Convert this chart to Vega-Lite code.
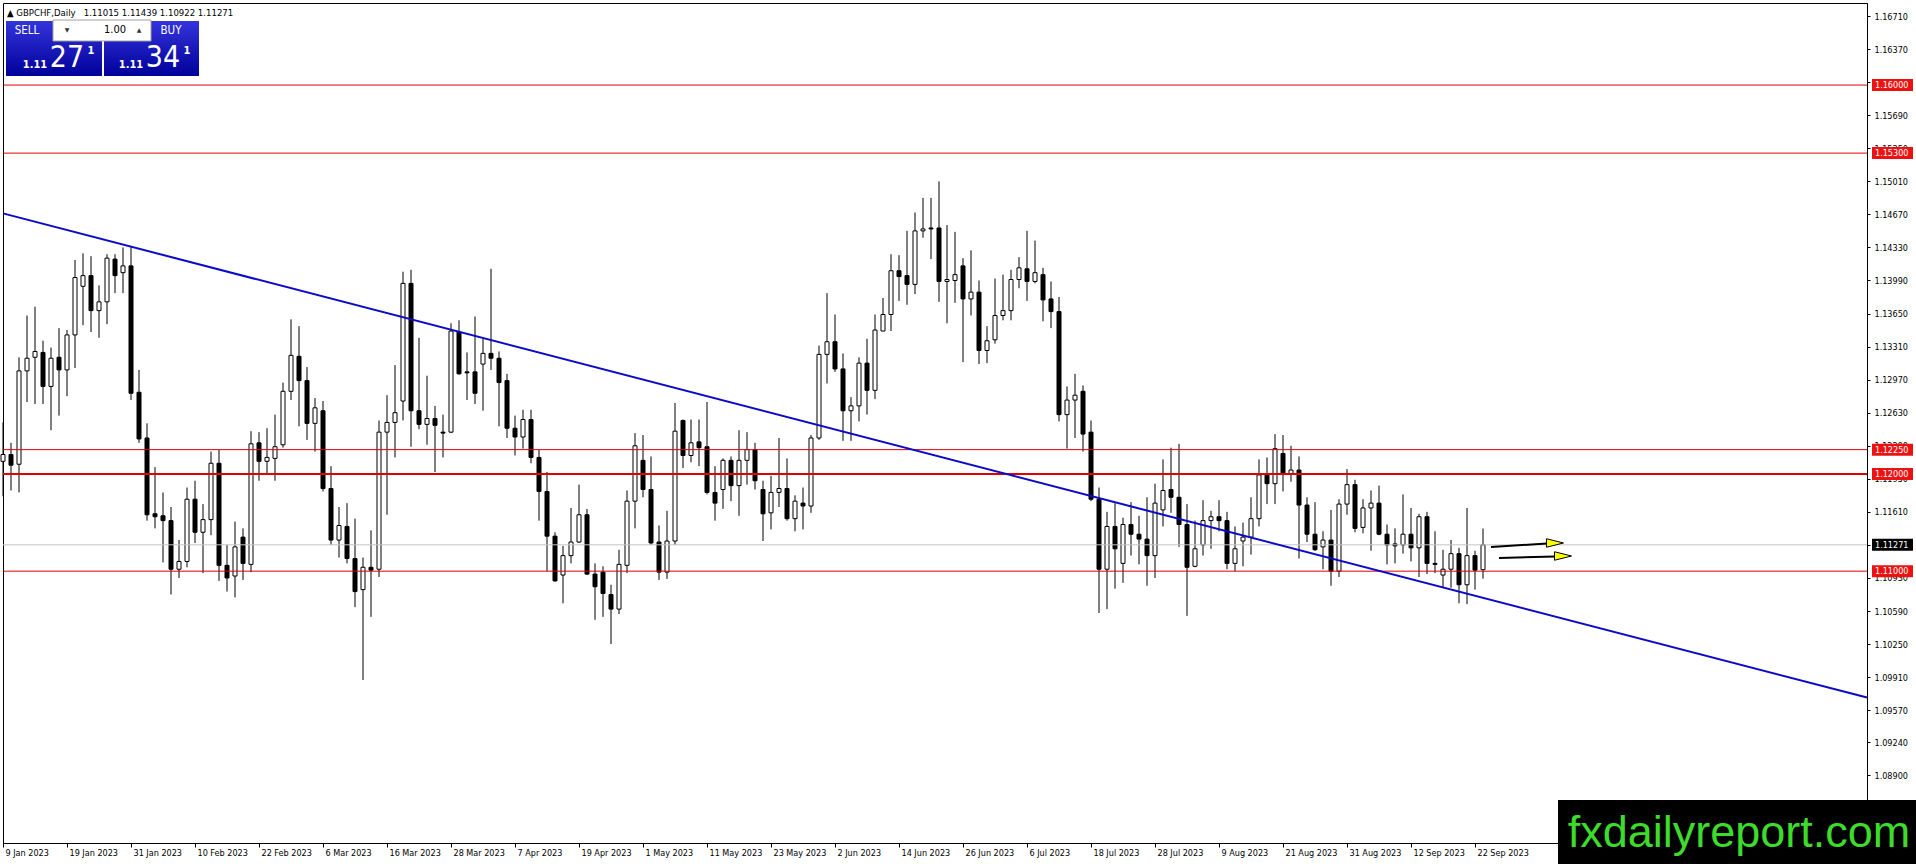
{
  "$schema": "https://vega.github.io/schema/vega-lite/v6.json",
  "width": 1864,
  "height": 840,
  "autosize": {"type": "none"},
  "padding": {"left": 3, "top": 3, "right": 49, "bottom": 21},
  "background": "white",
  "title": {
    "text": "▲  GBPCHF,Daily\u00a0\u00a0 1.11015 1.11439 1.10922 1.11271",
    "anchor": "start", "frame": "group", "orient": "top",
    "offset": -14, "baseline": "top", "dx": 4,
    "font": "DejaVu Sans Condensed, Liberation Sans", "fontSize": 9.5,
    "fontWeight": "normal", "color": "black"
  },
  "config": {
    "view": {"stroke": "black", "strokeWidth": 1},
    "axis": {
      "domainColor": "black", "tickColor": "black", "labelColor": "black",
      "labelFont": "DejaVu Sans Condensed, Liberation Sans", "labelFontSize": 9,
      "grid": false, "labelOverlap": false, "labelFlush": false, "labelBound": false
    }
  },
  "datasets": {
    "candles": [
      {"date": "2023-01-09", "open": 1.1213, "high": 1.1253, "low": 1.1177, "close": 1.1220},
      {"date": "2023-01-10", "open": 1.1220, "high": 1.1232, "low": 1.1183, "close": 1.1209},
      {"date": "2023-01-11", "open": 1.1210, "high": 1.1320, "low": 1.1181, "close": 1.1306},
      {"date": "2023-01-12", "open": 1.1306, "high": 1.1363, "low": 1.1274, "close": 1.1319},
      {"date": "2023-01-13", "open": 1.1320, "high": 1.1372, "low": 1.1272, "close": 1.1326},
      {"date": "2023-01-16", "open": 1.1325, "high": 1.1337, "low": 1.1272, "close": 1.1290},
      {"date": "2023-01-17", "open": 1.1290, "high": 1.1330, "low": 1.1245, "close": 1.1319},
      {"date": "2023-01-18", "open": 1.1320, "high": 1.1350, "low": 1.1260, "close": 1.1307},
      {"date": "2023-01-19", "open": 1.1307, "high": 1.1348, "low": 1.1280, "close": 1.1343},
      {"date": "2023-01-20", "open": 1.1343, "high": 1.1420, "low": 1.1309, "close": 1.1402},
      {"date": "2023-01-23", "open": 1.1393, "high": 1.1427, "low": 1.1353, "close": 1.1404},
      {"date": "2023-01-24", "open": 1.1404, "high": 1.1424, "low": 1.1346, "close": 1.1368},
      {"date": "2023-01-25", "open": 1.1368, "high": 1.1394, "low": 1.1340, "close": 1.1377},
      {"date": "2023-01-26", "open": 1.1377, "high": 1.1426, "low": 1.1354, "close": 1.1422},
      {"date": "2023-01-27", "open": 1.1421, "high": 1.1426, "low": 1.1386, "close": 1.1404},
      {"date": "2023-01-30", "open": 1.1407, "high": 1.1433, "low": 1.1386, "close": 1.1414},
      {"date": "2023-01-31", "open": 1.1414, "high": 1.1434, "low": 1.1276, "close": 1.1283},
      {"date": "2023-02-01", "open": 1.1284, "high": 1.1307, "low": 1.1232, "close": 1.1236},
      {"date": "2023-02-02", "open": 1.1237, "high": 1.1252, "low": 1.1152, "close": 1.1158},
      {"date": "2023-02-03", "open": 1.1159, "high": 1.1207, "low": 1.1144, "close": 1.1156},
      {"date": "2023-02-06", "open": 1.1157, "high": 1.1181, "low": 1.1109, "close": 1.1152},
      {"date": "2023-02-07", "open": 1.1152, "high": 1.1166, "low": 1.1076, "close": 1.1102},
      {"date": "2023-02-08", "open": 1.1102, "high": 1.1132, "low": 1.1093, "close": 1.1110},
      {"date": "2023-02-09", "open": 1.1110, "high": 1.1186, "low": 1.1104, "close": 1.1174},
      {"date": "2023-02-10", "open": 1.1174, "high": 1.1193, "low": 1.1129, "close": 1.1140},
      {"date": "2023-02-13", "open": 1.1140, "high": 1.1169, "low": 1.1098, "close": 1.1153},
      {"date": "2023-02-14", "open": 1.1153, "high": 1.1223, "low": 1.1137, "close": 1.1211},
      {"date": "2023-02-15", "open": 1.1211, "high": 1.1225, "low": 1.1090, "close": 1.1106},
      {"date": "2023-02-16", "open": 1.1106, "high": 1.1127, "low": 1.1079, "close": 1.1093},
      {"date": "2023-02-17", "open": 1.1095, "high": 1.1151, "low": 1.1073, "close": 1.1125},
      {"date": "2023-02-20", "open": 1.1135, "high": 1.1144, "low": 1.1091, "close": 1.1108},
      {"date": "2023-02-21", "open": 1.1107, "high": 1.1244, "low": 1.1099, "close": 1.1231},
      {"date": "2023-02-22", "open": 1.1232, "high": 1.1243, "low": 1.1193, "close": 1.1213},
      {"date": "2023-02-23", "open": 1.1213, "high": 1.1247, "low": 1.1200, "close": 1.1217},
      {"date": "2023-02-24", "open": 1.1216, "high": 1.1261, "low": 1.1193, "close": 1.1228},
      {"date": "2023-02-27", "open": 1.1230, "high": 1.1294, "low": 1.1227, "close": 1.1285},
      {"date": "2023-02-28", "open": 1.1285, "high": 1.1359, "low": 1.1276, "close": 1.1322},
      {"date": "2023-03-01", "open": 1.1321, "high": 1.1352, "low": 1.1249, "close": 1.1296},
      {"date": "2023-03-02", "open": 1.1296, "high": 1.1310, "low": 1.1235, "close": 1.1252},
      {"date": "2023-03-03", "open": 1.1252, "high": 1.1278, "low": 1.1223, "close": 1.1268},
      {"date": "2023-03-06", "open": 1.1265, "high": 1.1275, "low": 1.1182, "close": 1.1185},
      {"date": "2023-03-07", "open": 1.1185, "high": 1.1208, "low": 1.1127, "close": 1.1132},
      {"date": "2023-03-08", "open": 1.1132, "high": 1.1166, "low": 1.1114, "close": 1.1147},
      {"date": "2023-03-09", "open": 1.1146, "high": 1.1170, "low": 1.1108, "close": 1.1113},
      {"date": "2023-03-10", "open": 1.1113, "high": 1.1154, "low": 1.1063, "close": 1.1079},
      {"date": "2023-03-13", "open": 1.1081, "high": 1.1114, "low": 1.0988, "close": 1.1104},
      {"date": "2023-03-14", "open": 1.1104, "high": 1.1142, "low": 1.1053, "close": 1.1101},
      {"date": "2023-03-15", "open": 1.1102, "high": 1.1255, "low": 1.1094, "close": 1.1243},
      {"date": "2023-03-16", "open": 1.1243, "high": 1.1281, "low": 1.1158, "close": 1.1253},
      {"date": "2023-03-17", "open": 1.1253, "high": 1.1312, "low": 1.1217, "close": 1.1263},
      {"date": "2023-03-20", "open": 1.1275, "high": 1.1408, "low": 1.1255, "close": 1.1396},
      {"date": "2023-03-21", "open": 1.1396, "high": 1.1410, "low": 1.1228, "close": 1.1265},
      {"date": "2023-03-22", "open": 1.1265, "high": 1.1340, "low": 1.1246, "close": 1.1251},
      {"date": "2023-03-23", "open": 1.1251, "high": 1.1301, "low": 1.1230, "close": 1.1257},
      {"date": "2023-03-24", "open": 1.1257, "high": 1.1270, "low": 1.1202, "close": 1.1250},
      {"date": "2023-03-27", "open": 1.1243, "high": 1.1261, "low": 1.1217, "close": 1.1242},
      {"date": "2023-03-28", "open": 1.1243, "high": 1.1355, "low": 1.1242, "close": 1.1347},
      {"date": "2023-03-29", "open": 1.1346, "high": 1.1358, "low": 1.1302, "close": 1.1303},
      {"date": "2023-03-30", "open": 1.1305, "high": 1.1325, "low": 1.1276, "close": 1.1304},
      {"date": "2023-03-31", "open": 1.1305, "high": 1.1362, "low": 1.1272, "close": 1.1283},
      {"date": "2023-04-03", "open": 1.1313, "high": 1.1339, "low": 1.1265, "close": 1.1324},
      {"date": "2023-04-04", "open": 1.1324, "high": 1.1411, "low": 1.1307, "close": 1.1319},
      {"date": "2023-04-05", "open": 1.1319, "high": 1.1326, "low": 1.1249, "close": 1.1294},
      {"date": "2023-04-06", "open": 1.1296, "high": 1.1303, "low": 1.1237, "close": 1.1247},
      {"date": "2023-04-07", "open": 1.1247, "high": 1.1260, "low": 1.1219, "close": 1.1238},
      {"date": "2023-04-10", "open": 1.1238, "high": 1.1266, "low": 1.1226, "close": 1.1256},
      {"date": "2023-04-11", "open": 1.1256, "high": 1.1266, "low": 1.1211, "close": 1.1217},
      {"date": "2023-04-12", "open": 1.1217, "high": 1.1225, "low": 1.1152, "close": 1.1182},
      {"date": "2023-04-13", "open": 1.1182, "high": 1.1202, "low": 1.1100, "close": 1.1136},
      {"date": "2023-04-14", "open": 1.1136, "high": 1.1140, "low": 1.1089, "close": 1.1090},
      {"date": "2023-04-17", "open": 1.1096, "high": 1.1126, "low": 1.1067, "close": 1.1116},
      {"date": "2023-04-18", "open": 1.1116, "high": 1.1165, "low": 1.1108, "close": 1.1130},
      {"date": "2023-04-19", "open": 1.1130, "high": 1.1189, "low": 1.1129, "close": 1.1158},
      {"date": "2023-04-20", "open": 1.1158, "high": 1.1164, "low": 1.1096, "close": 1.1097},
      {"date": "2023-04-21", "open": 1.1097, "high": 1.1108, "low": 1.1050, "close": 1.1084},
      {"date": "2023-04-24", "open": 1.1099, "high": 1.1105, "low": 1.1053, "close": 1.1077},
      {"date": "2023-04-25", "open": 1.1076, "high": 1.1086, "low": 1.1025, "close": 1.1061},
      {"date": "2023-04-26", "open": 1.1061, "high": 1.1122, "low": 1.1056, "close": 1.1107},
      {"date": "2023-04-27", "open": 1.1106, "high": 1.1183, "low": 1.1098, "close": 1.1172},
      {"date": "2023-04-28", "open": 1.1172, "high": 1.1242, "low": 1.1144, "close": 1.1229},
      {"date": "2023-05-01", "open": 1.1214, "high": 1.1240, "low": 1.1176, "close": 1.1184},
      {"date": "2023-05-02", "open": 1.1184, "high": 1.1218, "low": 1.1127, "close": 1.1129},
      {"date": "2023-05-03", "open": 1.1130, "high": 1.1147, "low": 1.1091, "close": 1.1099},
      {"date": "2023-05-04", "open": 1.1099, "high": 1.1162, "low": 1.1092, "close": 1.1131},
      {"date": "2023-05-05", "open": 1.1131, "high": 1.1273, "low": 1.1127, "close": 1.1244},
      {"date": "2023-05-08", "open": 1.1255, "high": 1.1256, "low": 1.1206, "close": 1.1219},
      {"date": "2023-05-09", "open": 1.1219, "high": 1.1256, "low": 1.1212, "close": 1.1232},
      {"date": "2023-05-10", "open": 1.1233, "high": 1.1256, "low": 1.1208, "close": 1.1227},
      {"date": "2023-05-11", "open": 1.1228, "high": 1.1274, "low": 1.1179, "close": 1.1181},
      {"date": "2023-05-12", "open": 1.1181, "high": 1.1208, "low": 1.1152, "close": 1.1170},
      {"date": "2023-05-15", "open": 1.1184, "high": 1.1216, "low": 1.1164, "close": 1.1214},
      {"date": "2023-05-16", "open": 1.1214, "high": 1.1218, "low": 1.1172, "close": 1.1188},
      {"date": "2023-05-17", "open": 1.1188, "high": 1.1245, "low": 1.1157, "close": 1.1214},
      {"date": "2023-05-18", "open": 1.1214, "high": 1.1243, "low": 1.1189, "close": 1.1225},
      {"date": "2023-05-19", "open": 1.1225, "high": 1.1232, "low": 1.1184, "close": 1.1193},
      {"date": "2023-05-22", "open": 1.1184, "high": 1.1193, "low": 1.1131, "close": 1.1159},
      {"date": "2023-05-23", "open": 1.1160, "high": 1.1198, "low": 1.1143, "close": 1.1181},
      {"date": "2023-05-24", "open": 1.1181, "high": 1.1237, "low": 1.1166, "close": 1.1185},
      {"date": "2023-05-25", "open": 1.1185, "high": 1.1216, "low": 1.1152, "close": 1.1154},
      {"date": "2023-05-26", "open": 1.1154, "high": 1.1178, "low": 1.1141, "close": 1.1172},
      {"date": "2023-05-29", "open": 1.1170, "high": 1.1186, "low": 1.1143, "close": 1.1167},
      {"date": "2023-05-30", "open": 1.1167, "high": 1.1240, "low": 1.1160, "close": 1.1237},
      {"date": "2023-05-31", "open": 1.1237, "high": 1.1332, "low": 1.1235, "close": 1.1323},
      {"date": "2023-06-01", "open": 1.1323, "high": 1.1386, "low": 1.1293, "close": 1.1336},
      {"date": "2023-06-02", "open": 1.1336, "high": 1.1364, "low": 1.1305, "close": 1.1308},
      {"date": "2023-06-05", "open": 1.1308, "high": 1.1324, "low": 1.1234, "close": 1.1265},
      {"date": "2023-06-06", "open": 1.1265, "high": 1.1279, "low": 1.1234, "close": 1.1270},
      {"date": "2023-06-07", "open": 1.1270, "high": 1.1320, "low": 1.1254, "close": 1.1314},
      {"date": "2023-06-08", "open": 1.1314, "high": 1.1339, "low": 1.1261, "close": 1.1286},
      {"date": "2023-06-09", "open": 1.1286, "high": 1.1364, "low": 1.1277, "close": 1.1348},
      {"date": "2023-06-12", "open": 1.1347, "high": 1.1381, "low": 1.1347, "close": 1.1364},
      {"date": "2023-06-13", "open": 1.1364, "high": 1.1426, "low": 1.1347, "close": 1.1409},
      {"date": "2023-06-14", "open": 1.1409, "high": 1.1425, "low": 1.1378, "close": 1.1403},
      {"date": "2023-06-15", "open": 1.1404, "high": 1.1450, "low": 1.1374, "close": 1.1395},
      {"date": "2023-06-16", "open": 1.1395, "high": 1.1469, "low": 1.1385, "close": 1.1450},
      {"date": "2023-06-19", "open": 1.1450, "high": 1.1484, "low": 1.1443, "close": 1.1452},
      {"date": "2023-06-20", "open": 1.1453, "high": 1.1484, "low": 1.1421, "close": 1.1452},
      {"date": "2023-06-21", "open": 1.1453, "high": 1.1501, "low": 1.1377, "close": 1.1398},
      {"date": "2023-06-22", "open": 1.1398, "high": 1.1456, "low": 1.1355, "close": 1.1400},
      {"date": "2023-06-23", "open": 1.1399, "high": 1.1449, "low": 1.1376, "close": 1.1405},
      {"date": "2023-06-26", "open": 1.1414, "high": 1.1422, "low": 1.1315, "close": 1.1380},
      {"date": "2023-06-27", "open": 1.1380, "high": 1.1430, "low": 1.1363, "close": 1.1387},
      {"date": "2023-06-28", "open": 1.1387, "high": 1.1399, "low": 1.1313, "close": 1.1327},
      {"date": "2023-06-29", "open": 1.1327, "high": 1.1352, "low": 1.1314, "close": 1.1337},
      {"date": "2023-06-30", "open": 1.1338, "high": 1.1401, "low": 1.1334, "close": 1.1363},
      {"date": "2023-07-03", "open": 1.1363, "high": 1.1405, "low": 1.1358, "close": 1.1368},
      {"date": "2023-07-04", "open": 1.1368, "high": 1.1410, "low": 1.1358, "close": 1.1400},
      {"date": "2023-07-05", "open": 1.1400, "high": 1.1423, "low": 1.1391, "close": 1.1412},
      {"date": "2023-07-06", "open": 1.1411, "high": 1.1450, "low": 1.1378, "close": 1.1398},
      {"date": "2023-07-07", "open": 1.1398, "high": 1.1440, "low": 1.1396, "close": 1.1407},
      {"date": "2023-07-10", "open": 1.1405, "high": 1.1412, "low": 1.1357, "close": 1.1379},
      {"date": "2023-07-11", "open": 1.1380, "high": 1.1398, "low": 1.1350, "close": 1.1367},
      {"date": "2023-07-12", "open": 1.1367, "high": 1.1382, "low": 1.1254, "close": 1.1261},
      {"date": "2023-07-13", "open": 1.1261, "high": 1.1290, "low": 1.1226, "close": 1.1276},
      {"date": "2023-07-14", "open": 1.1276, "high": 1.1303, "low": 1.1237, "close": 1.1281},
      {"date": "2023-07-17", "open": 1.1285, "high": 1.1291, "low": 1.1223, "close": 1.1241},
      {"date": "2023-07-18", "open": 1.1243, "high": 1.1255, "low": 1.1172, "close": 1.1174},
      {"date": "2023-07-19", "open": 1.1174, "high": 1.1186, "low": 1.1057, "close": 1.1102},
      {"date": "2023-07-20", "open": 1.1102, "high": 1.1161, "low": 1.1061, "close": 1.1146},
      {"date": "2023-07-21", "open": 1.1146, "high": 1.1170, "low": 1.1082, "close": 1.1123},
      {"date": "2023-07-24", "open": 1.1108, "high": 1.1155, "low": 1.1088, "close": 1.1148},
      {"date": "2023-07-25", "open": 1.1148, "high": 1.1171, "low": 1.1116, "close": 1.1138},
      {"date": "2023-07-26", "open": 1.1138, "high": 1.1157, "low": 1.1107, "close": 1.1133},
      {"date": "2023-07-27", "open": 1.1133, "high": 1.1176, "low": 1.1085, "close": 1.1116},
      {"date": "2023-07-28", "open": 1.1116, "high": 1.1190, "low": 1.1093, "close": 1.1170},
      {"date": "2023-07-31", "open": 1.1163, "high": 1.1215, "low": 1.1146, "close": 1.1183},
      {"date": "2023-08-01", "open": 1.1184, "high": 1.1227, "low": 1.1160, "close": 1.1176},
      {"date": "2023-08-02", "open": 1.1176, "high": 1.1231, "low": 1.1125, "close": 1.1148},
      {"date": "2023-08-03", "open": 1.1148, "high": 1.1169, "low": 1.1054, "close": 1.1104},
      {"date": "2023-08-04", "open": 1.1105, "high": 1.1152, "low": 1.1104, "close": 1.1123},
      {"date": "2023-08-07", "open": 1.1127, "high": 1.1173, "low": 1.1116, "close": 1.1152},
      {"date": "2023-08-08", "open": 1.1152, "high": 1.1162, "low": 1.1123, "close": 1.1156},
      {"date": "2023-08-09", "open": 1.1156, "high": 1.1173, "low": 1.1141, "close": 1.1152},
      {"date": "2023-08-10", "open": 1.1152, "high": 1.1161, "low": 1.1102, "close": 1.1108},
      {"date": "2023-08-11", "open": 1.1108, "high": 1.1146, "low": 1.1100, "close": 1.1123},
      {"date": "2023-08-14", "open": 1.1131, "high": 1.1150, "low": 1.1105, "close": 1.1135},
      {"date": "2023-08-15", "open": 1.1135, "high": 1.1176, "low": 1.1117, "close": 1.1154},
      {"date": "2023-08-16", "open": 1.1154, "high": 1.1215, "low": 1.1146, "close": 1.1199},
      {"date": "2023-08-17", "open": 1.1199, "high": 1.1217, "low": 1.1169, "close": 1.1190},
      {"date": "2023-08-18", "open": 1.1190, "high": 1.1241, "low": 1.1169, "close": 1.1226},
      {"date": "2023-08-21", "open": 1.1221, "high": 1.1240, "low": 1.1182, "close": 1.1200},
      {"date": "2023-08-22", "open": 1.1200, "high": 1.1229, "low": 1.1192, "close": 1.1204},
      {"date": "2023-08-23", "open": 1.1204, "high": 1.1218, "low": 1.1113, "close": 1.1168},
      {"date": "2023-08-24", "open": 1.1168, "high": 1.1176, "low": 1.1130, "close": 1.1138},
      {"date": "2023-08-25", "open": 1.1138, "high": 1.1171, "low": 1.1121, "close": 1.1122},
      {"date": "2023-08-28", "open": 1.1125, "high": 1.1141, "low": 1.1102, "close": 1.1132},
      {"date": "2023-08-29", "open": 1.1132, "high": 1.1163, "low": 1.1085, "close": 1.1100},
      {"date": "2023-08-30", "open": 1.1100, "high": 1.1174, "low": 1.1094, "close": 1.1169},
      {"date": "2023-08-31", "open": 1.1169, "high": 1.1205, "low": 1.1158, "close": 1.1189},
      {"date": "2023-09-01", "open": 1.1189, "high": 1.1194, "low": 1.1140, "close": 1.1144},
      {"date": "2023-09-04", "open": 1.1145, "high": 1.1174, "low": 1.1139, "close": 1.1165},
      {"date": "2023-09-05", "open": 1.1165, "high": 1.1183, "low": 1.1121, "close": 1.1170},
      {"date": "2023-09-06", "open": 1.1170, "high": 1.1188, "low": 1.1137, "close": 1.1138},
      {"date": "2023-09-07", "open": 1.1138, "high": 1.1148, "low": 1.1107, "close": 1.1127},
      {"date": "2023-09-08", "open": 1.1128, "high": 1.1144, "low": 1.1108, "close": 1.1126},
      {"date": "2023-09-11", "open": 1.1127, "high": 1.1179, "low": 1.1118, "close": 1.1138},
      {"date": "2023-09-12", "open": 1.1138, "high": 1.1165, "low": 1.1110, "close": 1.1124},
      {"date": "2023-09-13", "open": 1.1124, "high": 1.1159, "low": 1.1094, "close": 1.1156},
      {"date": "2023-09-14", "open": 1.1156, "high": 1.1161, "low": 1.1097, "close": 1.1108},
      {"date": "2023-09-15", "open": 1.1108, "high": 1.1141, "low": 1.1098, "close": 1.1107},
      {"date": "2023-09-18", "open": 1.1096, "high": 1.1122, "low": 1.1083, "close": 1.1102},
      {"date": "2023-09-19", "open": 1.1102, "high": 1.1132, "low": 1.1083, "close": 1.1118},
      {"date": "2023-09-20", "open": 1.1118, "high": 1.1124, "low": 1.1067, "close": 1.1086},
      {"date": "2023-09-21", "open": 1.1086, "high": 1.1165, "low": 1.1066, "close": 1.1116},
      {"date": "2023-09-22", "open": 1.1116, "high": 1.1121, "low": 1.1081, "close": 1.1101},
      {"date": "2023-09-25", "open": 1.11015, "high": 1.11439, "low": 1.10922, "close": 1.11271}
    ],
    "levels": [
      {"price": 1.16, "tag": "1.16000", "kind": "level"},
      {"price": 1.153, "tag": "1.15300", "kind": "level"},
      {"price": 1.1225, "tag": "1.12250", "kind": "level"},
      {"price": 1.12, "tag": "1.12000", "kind": "major"},
      {"price": 1.11, "tag": "1.11000", "kind": "level"},
      {"price": 1.11271, "tag": "1.11271", "kind": "current"}
    ],
    "trend": [
      {"date": "2023-01-09", "price": 1.1468},
      {"date": "2023-11-30", "price": 1.0970}
    ],
    "arrows": [
      {"arrow": "upper", "date": "2023-09-26", "price": 1.11248},
      {"arrow": "upper", "date": "2023-10-05", "price": 1.11285},
      {"arrow": "lower", "date": "2023-09-27", "price": 1.11135},
      {"arrow": "lower", "date": "2023-10-06", "price": 1.11152}
    ],
    "heads": [
      {"arrow": "upper", "date": "2023-10-06", "price": 1.1129},
      {"arrow": "lower", "date": "2023-10-09", "price": 1.11156}
    ],
    "widget": [
      {"part": "side", "label": "SELL", "date": "2023-01-12", "price": 1.16556},
      {"part": "side", "label": "BUY", "date": "2023-02-07", "price": 1.16556},
      {"part": "lot", "label": "1.00", "date": "2023-01-27", "price": 1.16566},
      {"part": "spin", "label": "▼", "date": "2023-01-19", "price": 1.16566},
      {"part": "spin", "label": "▲", "date": "2023-02-01", "price": 1.16566},
      {"part": "figure", "label": "1.11", "date": "2023-01-13", "price": 1.16206},
      {"part": "figure", "label": "1.11", "date": "2023-01-31", "price": 1.16206},
      {"part": "points", "label": "27", "date": "2023-01-19", "price": 1.16278},
      {"part": "points", "label": "34", "date": "2023-02-06", "price": 1.16278},
      {"part": "pip", "label": "1", "date": "2023-01-24", "price": 1.1635},
      {"part": "pip", "label": "1", "date": "2023-02-09", "price": 1.1635}
    ]
  },
  "layer": [
    {
      "data": {"name": "candles"},
      "mark": {"type": "rule", "color": "black", "strokeWidth": 1},
      "encoding": {
        "x": {
          "field": "date", "type": "ordinal", "title": null,
          "scale": {
            "type": "point", "padding": 0,
            "domain": ["2023-01-09","2023-01-10","2023-01-11","2023-01-12","2023-01-13","2023-01-16","2023-01-17","2023-01-18","2023-01-19","2023-01-20","2023-01-23","2023-01-24","2023-01-25","2023-01-26","2023-01-27","2023-01-30","2023-01-31",
              "2023-02-01","2023-02-02","2023-02-03","2023-02-06","2023-02-07","2023-02-08","2023-02-09","2023-02-10","2023-02-13","2023-02-14","2023-02-15","2023-02-16","2023-02-17","2023-02-20","2023-02-21","2023-02-22","2023-02-23","2023-02-24","2023-02-27","2023-02-28",
              "2023-03-01","2023-03-02","2023-03-03","2023-03-06","2023-03-07","2023-03-08","2023-03-09","2023-03-10","2023-03-13","2023-03-14","2023-03-15","2023-03-16","2023-03-17","2023-03-20","2023-03-21","2023-03-22","2023-03-23","2023-03-24","2023-03-27","2023-03-28","2023-03-29","2023-03-30","2023-03-31",
              "2023-04-03","2023-04-04","2023-04-05","2023-04-06","2023-04-07","2023-04-10","2023-04-11","2023-04-12","2023-04-13","2023-04-14","2023-04-17","2023-04-18","2023-04-19","2023-04-20","2023-04-21","2023-04-24","2023-04-25","2023-04-26","2023-04-27","2023-04-28",
              "2023-05-01","2023-05-02","2023-05-03","2023-05-04","2023-05-05","2023-05-08","2023-05-09","2023-05-10","2023-05-11","2023-05-12","2023-05-15","2023-05-16","2023-05-17","2023-05-18","2023-05-19","2023-05-22","2023-05-23","2023-05-24","2023-05-25","2023-05-26","2023-05-29","2023-05-30","2023-05-31",
              "2023-06-01","2023-06-02","2023-06-05","2023-06-06","2023-06-07","2023-06-08","2023-06-09","2023-06-12","2023-06-13","2023-06-14","2023-06-15","2023-06-16","2023-06-19","2023-06-20","2023-06-21","2023-06-22","2023-06-23","2023-06-26","2023-06-27","2023-06-28","2023-06-29","2023-06-30",
              "2023-07-03","2023-07-04","2023-07-05","2023-07-06","2023-07-07","2023-07-10","2023-07-11","2023-07-12","2023-07-13","2023-07-14","2023-07-17","2023-07-18","2023-07-19","2023-07-20","2023-07-21","2023-07-24","2023-07-25","2023-07-26","2023-07-27","2023-07-28","2023-07-31",
              "2023-08-01","2023-08-02","2023-08-03","2023-08-04","2023-08-07","2023-08-08","2023-08-09","2023-08-10","2023-08-11","2023-08-14","2023-08-15","2023-08-16","2023-08-17","2023-08-18","2023-08-21","2023-08-22","2023-08-23","2023-08-24","2023-08-25","2023-08-28","2023-08-29","2023-08-30","2023-08-31",
              "2023-09-01","2023-09-04","2023-09-05","2023-09-06","2023-09-07","2023-09-08","2023-09-11","2023-09-12","2023-09-13","2023-09-14","2023-09-15","2023-09-18","2023-09-19","2023-09-20","2023-09-21","2023-09-22","2023-09-25","2023-09-26","2023-09-27","2023-09-28","2023-09-29",
              "2023-10-02","2023-10-03","2023-10-04","2023-10-05","2023-10-06","2023-10-09","2023-10-10","2023-10-11","2023-10-12","2023-10-13","2023-10-16","2023-10-17","2023-10-18","2023-10-19","2023-10-20","2023-10-23","2023-10-24","2023-10-25","2023-10-26","2023-10-27","2023-10-30","2023-10-31",
              "2023-11-01","2023-11-02","2023-11-03","2023-11-06","2023-11-07","2023-11-08","2023-11-09","2023-11-10","2023-11-13","2023-11-14","2023-11-15","2023-11-16","2023-11-17","2023-11-20","2023-11-21","2023-11-22","2023-11-23","2023-11-24","2023-11-27","2023-11-28","2023-11-29","2023-11-30"]
          },
          "axis": {
            "orient": "bottom", "title": null,
            "values": ["2023-01-09","2023-01-19","2023-01-31","2023-02-10","2023-02-22","2023-03-06","2023-03-16","2023-03-28","2023-04-07","2023-04-19","2023-05-01","2023-05-11","2023-05-23","2023-06-02","2023-06-14","2023-06-26","2023-07-06","2023-07-18","2023-07-28","2023-08-09","2023-08-21","2023-08-31","2023-09-12","2023-09-22"],
            "labelExpr": "utcFormat(toDate(datum.value), '%-d %b %Y')",
            "labelAlign": "left", "labelBaseline": "top", "labelOffset": 2,
            "labelPadding": 1, "tickSize": 4, "labelAngle": 0,
            "labelOverlap": false, "labelFlush": false, "labelBound": false
          }
        },
        "y": {
          "field": "low", "type": "quantitative", "title": null,
          "scale": {"domain": [1.08204, 1.16844], "zero": false, "nice": false},
          "axis": {
            "orient": "right", "title": null, "tickCount": 60,
            "values": [1.1671, 1.1637, 1.1603, 1.1569, 1.1535, 1.1501, 1.1467, 1.1433, 1.1399, 1.1365, 1.1331, 1.1297, 1.1263, 1.1229, 1.1195, 1.1161, 1.1127, 1.1093, 1.1059, 1.1025, 1.0991, 1.0957, 1.0924, 1.089],
            "format": ".5f", "tickSize": 3, "labelPadding": 4,
            "labelOverlap": false, "labelFlush": false, "labelBound": false, "labelBaseline": "middle"
          }
        },
        "y2": {"field": "high"}
      }
    },
    {
      "data": {"name": "candles"},
      "mark": {"type": "bar", "width": 4, "stroke": "black", "strokeWidth": 1},
      "encoding": {
        "x": {"field": "date", "type": "ordinal", "title": null, "scale": {"type": "point"}},
        "y": {"field": "open", "type": "quantitative", "title": null},
        "y2": {"field": "close"},
        "fill": {"condition": {"test": "datum.close > datum.open", "value": "white"}, "value": "black"}
      }
    },
    {
      "data": {"name": "levels"},
      "mark": {"type": "rule"},
      "encoding": {
        "y": {"field": "price", "type": "quantitative", "title": null},
        "color": {"condition": {"test": "datum.kind == 'current'", "value": "#c4c4c4"}, "value": "#e00000"},
        "strokeWidth": {"condition": {"test": "datum.kind == 'major'", "value": 2}, "value": 1}
      }
    },
    {
      "data": {"name": "trend"},
      "mark": {"type": "line", "color": "#0a0ac8", "strokeWidth": 2},
      "encoding": {
        "x": {"field": "date", "type": "ordinal", "title": null, "scale": {"type": "point"}},
        "y": {"field": "price", "type": "quantitative", "title": null}
      }
    },
    {
      "data": {"name": "arrows"},
      "mark": {"type": "line", "color": "black", "strokeWidth": 2},
      "encoding": {
        "x": {"field": "date", "type": "ordinal", "title": null, "scale": {"type": "point"}},
        "y": {"field": "price", "type": "quantitative", "title": null},
        "detail": {"field": "arrow"}
      }
    },
    {
      "data": {"name": "heads"},
      "mark": {"type": "point", "shape": "M-1,-0.5L1,0L-1,0.5Z", "size": 289, "filled": true, "fill": "#ffff00", "stroke": "black", "strokeWidth": 1, "opacity": 1},
      "encoding": {
        "x": {"field": "date", "type": "ordinal", "title": null, "scale": {"type": "point"}},
        "y": {"field": "price", "type": "quantitative", "title": null}
      }
    },
    {
      "data": {"name": "levels"},
      "mark": {"type": "rect", "xOffset": 5, "x2Offset": 46, "yOffset": -6, "y2Offset": 6},
      "encoding": {
        "x": {"datum": "2023-11-30", "type": "ordinal", "title": null, "scale": {"type": "point"}},
        "x2": {"datum": "2023-11-30"},
        "y": {"field": "price", "type": "quantitative", "title": null},
        "y2": {"field": "price"},
        "fill": {"condition": {"test": "datum.kind == 'current'", "value": "black"}, "value": "#ee1111"}
      }
    },
    {
      "data": {"name": "levels"},
      "mark": {"type": "text", "align": "left", "baseline": "middle", "dx": 8, "color": "white", "font": "DejaVu Sans Condensed, Liberation Sans", "fontSize": 9},
      "encoding": {
        "x": {"datum": "2023-11-30", "type": "ordinal", "title": null, "scale": {"type": "point"}},
        "y": {"field": "price", "type": "quantitative", "title": null},
        "text": {"field": "tag"}
      }
    },
    {
      "data": {"values": [{}]},
      "mark": {"type": "rect", "xOffset": 3, "x2Offset": 3, "fill": {"gradient": "linear", "x1": 0, "y1": 0, "x2": 0, "y2": 1, "stops": [{"offset": 0, "color": "#3434dc"}, {"offset": 1, "color": "#00009a"}]}},
      "encoding": {
        "x": {"datum": "2023-01-09", "type": "ordinal", "title": null, "scale": {"type": "point"}},
        "x2": {"datum": "2023-01-25"},
        "y": {"datum": 1.16659, "type": "quantitative", "title": null},
        "y2": {"datum": 1.16093}
      }
    },
    {
      "data": {"values": [{}]},
      "mark": {"type": "rect", "xOffset": -3, "x2Offset": 4, "fill": {"gradient": "linear", "x1": 0, "y1": 0, "x2": 0, "y2": 1, "stops": [{"offset": 0, "color": "#3434dc"}, {"offset": 1, "color": "#00009a"}]}},
      "encoding": {
        "x": {"datum": "2023-01-26", "type": "ordinal", "title": null, "scale": {"type": "point"}},
        "x2": {"datum": "2023-02-10"},
        "y": {"datum": 1.16659, "type": "quantitative", "title": null},
        "y2": {"datum": 1.16093}
      }
    },
    {
      "data": {"values": [{}]},
      "mark": {"type": "rect", "xOffset": 2, "x2Offset": 4, "fill": "white", "stroke": "#a0a0a0", "strokeWidth": 1},
      "encoding": {
        "x": {"datum": "2023-01-17", "type": "ordinal", "title": null, "scale": {"type": "point"}},
        "x2": {"datum": "2023-02-02"},
        "y": {"datum": 1.16669, "type": "quantitative", "title": null},
        "y2": {"datum": 1.16453}
      }
    },
    {
      "data": {"name": "widget"},
      "transform": [{"filter": "datum.part == 'side'"}],
      "mark": {"type": "text", "align": "center", "baseline": "middle", "color": "white", "font": "DejaVu Sans Condensed, Liberation Sans", "fontSize": 11.5},
      "encoding": {
        "x": {"field": "date", "type": "ordinal", "title": null, "scale": {"type": "point"}},
        "y": {"field": "price", "type": "quantitative", "title": null},
        "text": {"field": "label"}
      }
    },
    {
      "data": {"name": "widget"},
      "transform": [{"filter": "datum.part == 'lot'"}],
      "mark": {"type": "text", "align": "center", "baseline": "middle", "color": "black", "font": "DejaVu Sans Condensed, Liberation Sans", "fontSize": 11},
      "encoding": {
        "x": {"field": "date", "type": "ordinal", "title": null, "scale": {"type": "point"}},
        "y": {"field": "price", "type": "quantitative", "title": null},
        "text": {"field": "label"}
      }
    },
    {
      "data": {"name": "widget"},
      "transform": [{"filter": "datum.part == 'spin'"}],
      "mark": {"type": "text", "align": "center", "baseline": "middle", "color": "#333333", "font": "DejaVu Sans", "fontSize": 6},
      "encoding": {
        "x": {"field": "date", "type": "ordinal", "title": null, "scale": {"type": "point"}},
        "y": {"field": "price", "type": "quantitative", "title": null},
        "text": {"field": "label"}
      }
    },
    {
      "data": {"name": "widget"},
      "transform": [{"filter": "datum.part == 'figure' || datum.part == 'pip'"}],
      "mark": {"type": "text", "align": "center", "baseline": "middle", "color": "white", "font": "DejaVu Sans Condensed, Liberation Sans", "fontSize": 11, "fontWeight": "bold"},
      "encoding": {
        "x": {"field": "date", "type": "ordinal", "title": null, "scale": {"type": "point"}},
        "y": {"field": "price", "type": "quantitative", "title": null},
        "text": {"field": "label"}
      }
    },
    {
      "data": {"name": "widget"},
      "transform": [{"filter": "datum.part == 'points'"}],
      "mark": {"type": "text", "align": "center", "baseline": "middle", "color": "white", "font": "DejaVu Sans Condensed, Liberation Sans", "fontSize": 30},
      "encoding": {
        "x": {"field": "date", "type": "ordinal", "title": null, "scale": {"type": "point"}},
        "y": {"field": "price", "type": "quantitative", "title": null},
        "text": {"field": "label"}
      }
    },
    {
      "data": {"values": [{}]},
      "mark": {"type": "rect", "xOffset": 3, "x2Offset": 49, "y2Offset": 21, "fill": "black"},
      "encoding": {
        "x": {"datum": "2023-10-06", "type": "ordinal", "title": null, "scale": {"type": "point"}},
        "x2": {"datum": "2023-11-30"},
        "y": {"datum": 1.08646, "type": "quantitative", "title": null},
        "y2": {"datum": 1.08204}
      }
    },
    {
      "data": {"values": [{}]},
      "mark": {"type": "text", "text": "fxdailyreport.com", "align": "center", "baseline": "alphabetic", "color": "#3ddc2c", "font": "Liberation Sans", "fontSize": 45},
      "encoding": {
        "x": {"datum": "2023-11-08", "type": "ordinal", "title": null, "scale": {"type": "point"}},
        "y": {"datum": 1.08163, "type": "quantitative", "title": null}
      }
    }
  ]
}
